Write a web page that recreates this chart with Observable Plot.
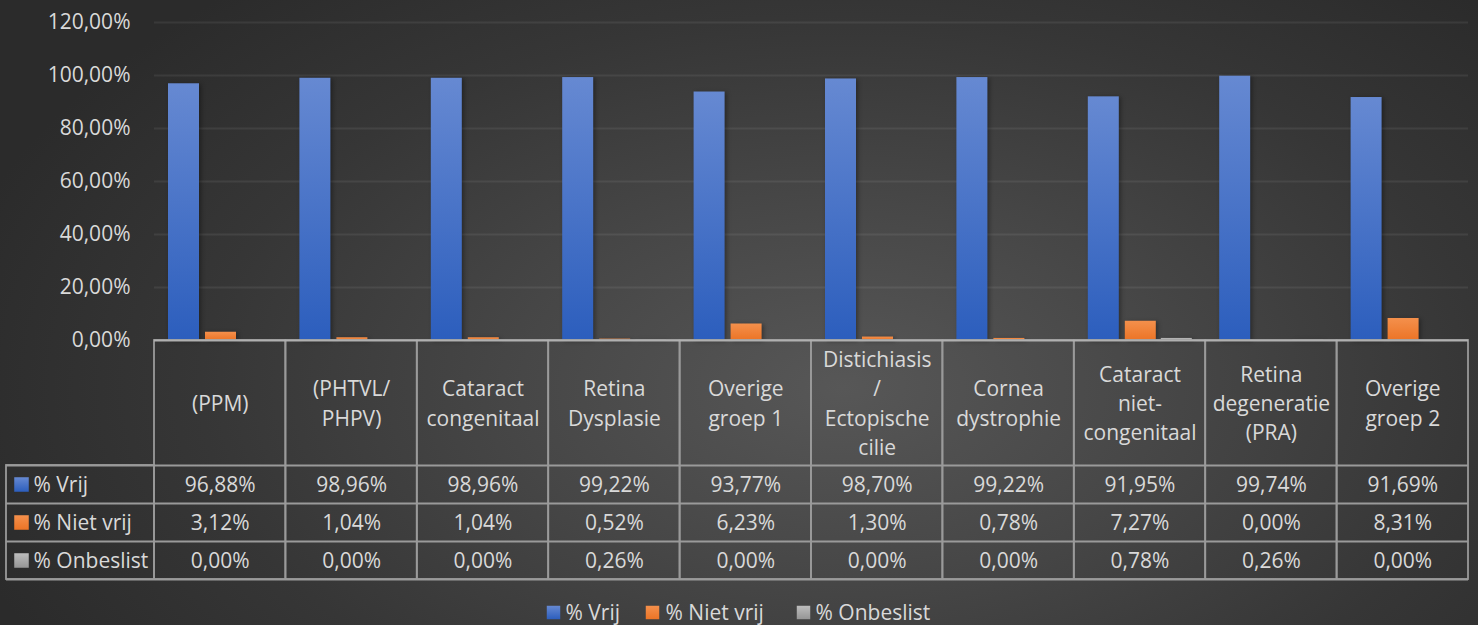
<!DOCTYPE html>
<html>
<head>
<meta charset="utf-8">
<script src="https://cdn.jsdelivr.net/npm/d3@7"></script>
<script src="https://cdn.jsdelivr.net/npm/@observablehq/plot@0.6"></script>
<style>
  html, body { margin: 0; padding: 0; }
  body {
    width: 1478px; height: 625px; overflow: hidden;
    background: radial-gradient(ellipse 62% 85% at 57% 62%, #575757 0%, #474747 35%, #363636 70%, #2b2b2b 100%);
    font-family: "Open Sans", sans-serif;
  }
  .bars rect { filter: drop-shadow(2px 1px 2px rgba(0,0,0,0.35)); }
</style>
</head>
<body>
<div id="chart"></div>
<script>
const categories = ["(PPM)", "(PHTVL/ PHPV)", "Cataract congenitaal", "Retina Dysplasie", "Overige groep 1",
  "Distichiasis / Ectopische cilie", "Cornea dystrophie", "Cataract niet-congenitaal", "Retina degeneratie (PRA)", "Overige groep 2"];
const headerLabels = ["(PPM)", "(PHTVL/\nPHPV)", "Cataract\ncongenitaal", "Retina\nDysplasie", "Overige\ngroep 1",
  "Distichiasis\n/\nEctopische\ncilie", "Cornea\ndystrophie", "Cataract\nniet-\ncongenitaal", "Retina\ndegeneratie\n(PRA)", "Overige\ngroep 2"];
const vrij = [96.88, 98.96, 98.96, 99.22, 93.77, 98.70, 99.22, 91.95, 99.74, 91.69];
const nietVrij = [3.12, 1.04, 1.04, 0.52, 6.23, 1.30, 0.78, 7.27, 0.00, 8.31];
const onbeslist = [0.00, 0.00, 0.00, 0.26, 0.00, 0.00, 0.00, 0.78, 0.26, 0.00];
const seriesNames = ["% Vrij", "% Niet vrij", "% Onbeslist"];
const yTicks = [0, 20, 40, 60, 80, 100, 120];

const fmt = v => v.toFixed(2).replace(".", ",") + "%";
const rows = categories.map((c, i) => ({cat: c, header: headerLabels[i], vrij: vrij[i], niet: nietVrij[i], onb: onbeslist[i]}));
const fills = ["url(#gBlue)", "url(#gOrange)", "url(#gGray)"];
const textColor = "#d9d9d9";
const lineColor = "#9a9a9a";
const lw = 1.8;
const fs = 21;
const mid = 7; // vertical centring of single-line text

const band = (1478 - 154 - 10) / categories.length;
const barW = 31;
const offsets = [14, 51, 87];
const barMark = (key, k) => Plot.barY(rows, {
  x: "cat", y: key, fill: fills[k], className: "bars",
  insetLeft: offsets[k], insetRight: band - offsets[k] - barW
});

const rowDy = [144, 182, 220];
const valueKeys = ["vrij", "niet", "onb"];
const legendDy = 272;

const marks = [
  Plot.ruleY(yTicks.filter(t => t > 0), {stroke: "#ffffff", strokeOpacity: 0.07, strokeWidth: 2}),
  barMark("vrij", 0), barMark("niet", 1), barMark("onb", 2),
  // table columns
  Plot.barY(rows, {x: "cat", y1: 0, y2: 0, fill: "none", stroke: lineColor, strokeWidth: lw, insetBottom: -239}),
  // left legend column box
  Plot.barY(rows.slice(0, 1), {x: "cat", y1: 0, y2: 0, fill: "none", stroke: lineColor, strokeWidth: lw,
    insetTop: 125, insetBottom: -239, insetLeft: -148, insetRight: band}),
  ...[125, 163, 201, 239].map(dy => Plot.ruleY([0], {dy, insetLeft: -148, stroke: lineColor, strokeWidth: lw})),
  Plot.ruleY([0], {stroke: "#b0b0b0", strokeWidth: 2}),
  // header labels
  Plot.text(rows, {x: "cat", text: "header", frameAnchor: "bottom", dy: 61, lineAnchor: "middle",
    lineHeight: 1.4, fill: textColor, fontSize: fs}),
  // values
  ...valueKeys.map((key, k) => Plot.text(rows, {x: "cat", text: d => fmt(d[key]), frameAnchor: "bottom",
    dy: rowDy[k] + mid, fill: textColor, fontSize: fs})),
  // row labels
  ...seriesNames.map((s, k) => Plot.dot([s], {frameAnchor: "bottom-left", dx: -133, dy: rowDy[k],
    symbol: "square", r: 8.2, fill: fills[k]})),
  ...seriesNames.map((s, k) => Plot.text([s], {frameAnchor: "bottom-left", dx: -121, dy: rowDy[k] + mid,
    text: d => d, textAnchor: "start", fill: textColor, fontSize: fs})),
  // bottom legend
  ...seriesNames.map((s, k) => Plot.dot([s], {frameAnchor: "bottom", dx: [-258, -159, -8][k], dy: legendDy,
    symbol: "square", r: 7.6, fill: fills[k]})),
  ...seriesNames.map((s, k) => Plot.text([s], {frameAnchor: "bottom", dx: [-246, -146, 4][k], dy: legendDy + mid,
    text: d => d, textAnchor: "start", fill: textColor, fontSize: fs}))
];

const chart = Plot.plot({
  width: 1478, height: 625,
  marginTop: 22, marginBottom: 285, marginLeft: 154, marginRight: 10,
  style: {background: "transparent", color: textColor, fontFamily: "'Open Sans', sans-serif", fontSize: fs + "px"},
  x: {domain: categories, padding: 0, round: false, axis: null},
  y: {domain: [0, 120], ticks: yTicks, tickFormat: fmt, tickSize: 0, tickPadding: 24, label: null},
  marks
});
chart.insertAdjacentHTML("afterbegin", `
<defs>
  <linearGradient id="gBlue" x1="0" y1="0" x2="0" y2="1">
    <stop offset="0" stop-color="#6689d2"/><stop offset="1" stop-color="#2c5ebd"/>
  </linearGradient>
  <linearGradient id="gOrange" x1="0" y1="0" x2="0" y2="1">
    <stop offset="0" stop-color="#f4904c"/><stop offset="1" stop-color="#ec7426"/>
  </linearGradient>
  <linearGradient id="gGray" x1="0" y1="0" x2="0" y2="1">
    <stop offset="0" stop-color="#bdbdbd"/><stop offset="1" stop-color="#959595"/>
  </linearGradient>
</defs>`);
document.getElementById("chart").appendChild(chart);
</script>
</body>
</html>
